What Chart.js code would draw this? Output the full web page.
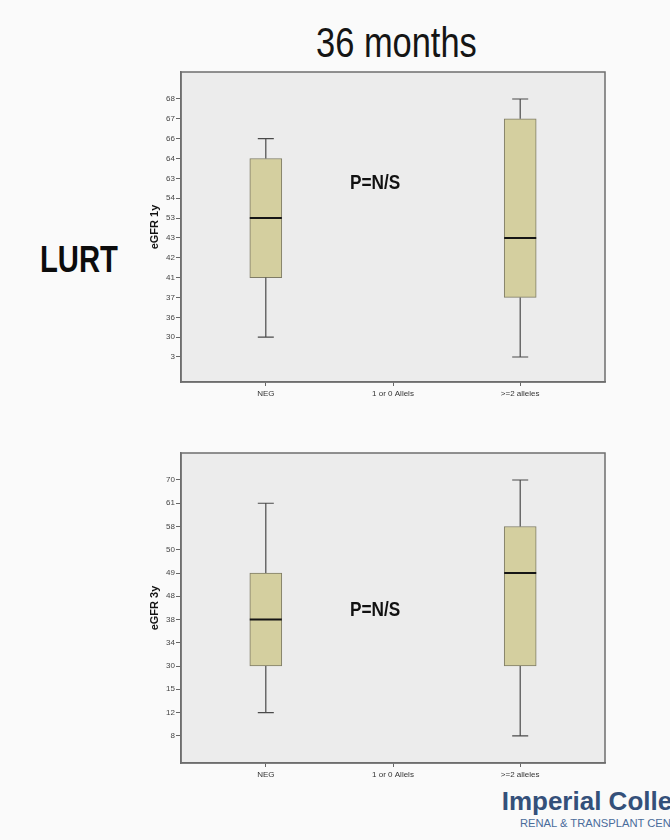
<!DOCTYPE html>
<html>
<head>
<meta charset="utf-8">
<script src="https://cdn.jsdelivr.net/npm/chart.js@4/dist/chart.umd.min.js"></script>
<style>
  html, body { margin: 0; padding: 0; background: #fafafa; width: 670px; height: 840px; overflow: hidden; position: relative;
    font-family: "Liberation Sans", Arial, sans-serif; }
  .txt { position: absolute; white-space: nowrap; line-height: 1; transform-origin: 0 0; }
  .panel { position: absolute; left: 140px; width: 480px; height: 345px; }
</style>
</head>
<body>
<div class="txt" style="left:316px;top:21.5px;font-size:42px;color:#151515;transform:scaleX(0.82);">36 months</div>
<div class="txt" style="left:40px;top:240.7px;font-size:37px;font-weight:bold;color:#0c0c0c;transform:scaleX(0.79);">LURT</div>

<div class="panel" style="top:60px;"><canvas id="c1" width="480" height="345"></canvas></div>
<div class="panel" style="top:441px;"><canvas id="c2" width="480" height="345"></canvas></div>

<div class="txt" style="left:350px;top:171.2px;font-size:21px;font-weight:bold;color:#111;transform:scaleX(0.82);">P=N/S</div>
<div class="txt" style="left:350px;top:597.7px;font-size:21px;font-weight:bold;color:#111;transform:scaleX(0.82);">P=N/S</div>

<div class="txt" style="left:501.7px;top:788px;font-size:26px;font-weight:bold;color:#34507a;">Imperial College London</div>
<div class="txt" style="left:520px;top:818px;font-size:11.2px;color:#4a6c9a;">RENAL &amp; TRANSPLANT CENTRE</div>

<script>
// Genotype groups on the x axis
const categories = ['NEG', '1 or 0 Allels', '>=2 alleles'];

// eGFR at 1 year: value labels shown on the y axis (evenly spaced, ordered)
const ticks1y = [3, 30, 36, 37, 41, 42, 43, 53, 54, 63, 64, 66, 67, 68];
// five-number summaries: [min, q1, median, q3, max]
const neg1y  = [30, 41, 53, 64, 66];
const high1y = [3, 37, 43, 67, 68];

// eGFR at 3 years
const ticks3y = [8, 12, 15, 30, 34, 38, 48, 49, 50, 58, 61, 70];
const neg3y  = [12, 30, 38, 49, 61];
const high3y = [8, 30, 49, 58, 70];

const FONT = '"Liberation Sans", Arial, sans-serif';
const CAP_HALF = 0.063;     // whisker cap half-width, x units
const MED_HALF = 0.126;     // median line half-width, x units

// grey plot panel with a frame round it
const framePlugin = {
  id: 'frame',
  beforeDraw(chart) {
    const { ctx, chartArea: a } = chart;
    ctx.save();
    ctx.fillStyle = '#ececec';
    ctx.fillRect(a.left, a.top, a.right - a.left, a.bottom - a.top);
    ctx.restore();
  },
  afterDraw(chart) {
    const { ctx, chartArea: a } = chart;
    ctx.save();
    ctx.strokeStyle = '#6e6e6e';
    ctx.lineWidth = 1.5;
    ctx.strokeRect(a.left, a.top, a.right - a.left, a.bottom - a.top);
    ctx.restore();
  }
};

function boxChart(id, tickVals, groups, yTitle, padBelow, padAbove) {
  const pos = v => tickVals.indexOf(v);
  const boxes = [], whiskers = [], medians = [];
  groups.forEach(([ci, s]) => {
    const [mn, q1, md, q3, mx] = s.map(pos);
    boxes.push({ x: ci, y: [q1, q3] });
    whiskers.push(
      { x: ci, y: mx }, { x: ci, y: q3 }, { x: ci, y: null },
      { x: ci, y: q1 }, { x: ci, y: mn }, { x: ci, y: null },
      { x: ci - CAP_HALF, y: mx }, { x: ci + CAP_HALF, y: mx }, { x: ci, y: null },
      { x: ci - CAP_HALF, y: mn }, { x: ci + CAP_HALF, y: mn }, { x: ci, y: null }
    );
    medians.push({ x: ci - MED_HALF, y: md }, { x: ci + MED_HALF, y: md }, { x: ci, y: null });
  });

  return new Chart(document.getElementById(id), {
    type: 'bar',
    data: {
      datasets: [
        { type: 'bar', data: boxes, backgroundColor: '#d4cf9f', borderColor: '#7f7c66',
          borderWidth: 1, borderSkipped: false, barThickness: 32, order: 3 },
        { type: 'line', data: whiskers, borderColor: '#4a4a4a', borderWidth: 1.2,
          pointRadius: 0, spanGaps: false, fill: false, tension: 0, order: 2 },
        { type: 'line', data: medians, borderColor: '#151515', borderWidth: 2,
          pointRadius: 0, spanGaps: false, fill: false, tension: 0, order: 1 }
      ]
    },
    options: {
      responsive: false,
      devicePixelRatio: 1,
      animation: false,
      layout: { padding: { top: 12, right: 15, bottom: 0, left: 0 } },
      plugins: { legend: { display: false }, tooltip: { enabled: false } },
      scales: {
        x: {
          type: 'linear', min: -2 / 3, max: 8 / 3, offset: false,
          afterBuildTicks: s => { s.ticks = categories.map((_, i) => ({ value: i })); },
          afterFit: s => { s.height = 23; },
          ticks: { callback: v => categories[v], font: { family: FONT, size: 8 }, color: '#333',
                   padding: 3, maxRotation: 0, autoSkip: false },
          grid: { offset: false, drawOnChartArea: false, drawTicks: true, tickLength: 4, color: '#666' },
          border: { display: true, color: '#6e6e6e', width: 1.5 }
        },
        y: {
          type: 'linear', min: -padBelow, max: tickVals.length - 1 + padAbove,
          afterBuildTicks: s => { s.ticks = tickVals.map((_, i) => ({ value: i })); },
          afterFit: s => { s.width = 41; },
          ticks: { callback: v => String(tickVals[v]), font: { family: FONT, size: 8 }, color: '#444',
                   padding: 1, autoSkip: false },
          grid: { drawOnChartArea: false, drawTicks: true, tickLength: 5, color: '#666' },
          border: { display: true, color: '#6e6e6e', width: 1.5 },
          title: { display: true, text: yTitle, font: { family: FONT, size: 11, weight: 'bold' },
                   color: '#111', padding: { top: 8, bottom: 0 } }
        }
      }
    },
    plugins: [framePlugin]
  });
}

boxChart('c1', ticks1y, [[0, neg1y], [2, high1y]], 'eGFR 1y', 1.26, 1.36);
boxChart('c2', ticks3y, [[0, neg3y], [2, high3y]], 'eGFR 3y', 1.17, 1.16);
</script>
</body>
</html>
